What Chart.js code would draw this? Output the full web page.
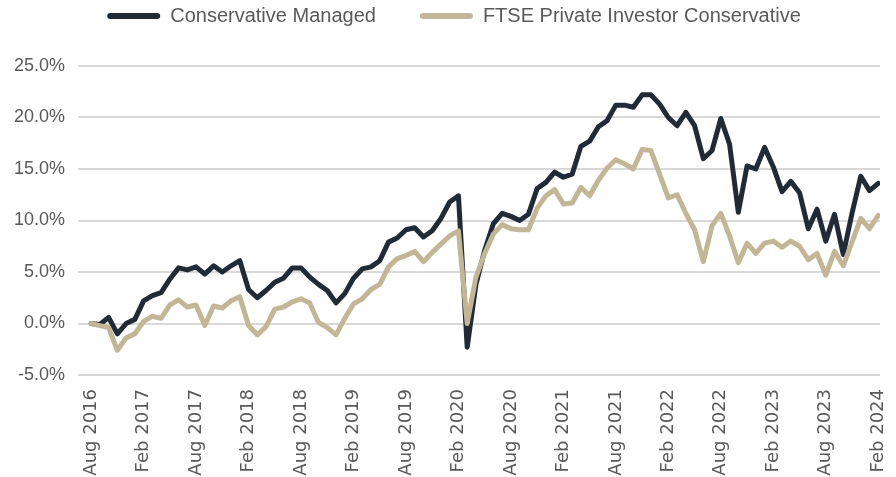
<!DOCTYPE html>
<html>
<head>
<meta charset="utf-8">
<script src="https://cdn.jsdelivr.net/npm/chart.js@4/dist/chart.umd.min.js"></script>
<style>
  html, body { margin: 0; padding: 0; background: #fff; }
</style>
</head>
<body>
<canvas id="chart" width="896" height="477"></canvas>
<script>
// cumulative performance, % (monthly, Aug 2016 - Feb 2024)
const conservativeManaged = [
  0.0, -0.1, 0.6, -1.0, 0.0, 0.4, 2.2, 2.7, 3.0, 4.3, 5.4, 5.2,
  5.5, 4.8, 5.6, 5.0, 5.6, 6.1, 3.3, 2.5, 3.2, 4.0, 4.4, 5.4,
  5.4, 4.5, 3.8, 3.2, 2.0, 2.9, 4.4, 5.3, 5.5, 6.1, 7.9, 8.3,
  9.1, 9.3, 8.4, 9.0, 10.2, 11.8, 12.4, -2.3, 3.8, 7.1, 9.7, 10.7,
  10.4, 10.0, 10.6, 13.1, 13.7, 14.7, 14.2, 14.5, 17.2, 17.7, 19.1, 19.7,
  21.2, 21.2, 21.0, 22.2, 22.2, 21.3, 20.0, 19.2, 20.5, 19.2, 16.0, 16.8,
  19.9, 17.4, 10.8, 15.3, 15.0, 17.1, 15.2, 12.8, 13.8, 12.7, 9.2, 11.1,
  8.0, 10.6, 6.7, 10.7, 14.3, 12.9, 13.6
];
const ftseConservative = [
  0.0, -0.2, -0.4, -2.6, -1.4, -1.0, 0.2, 0.7, 0.5, 1.8, 2.3, 1.6,
  1.8, -0.2, 1.7, 1.5, 2.2, 2.6, -0.2, -1.1, -0.3, 1.4, 1.6, 2.1,
  2.4, 2.0, 0.1, -0.4, -1.1, 0.5, 1.9, 2.4, 3.3, 3.8, 5.5, 6.3,
  6.6, 7.0, 6.0, 6.9, 7.7, 8.5, 9.0, 0.0, 4.5, 6.8, 8.7, 9.6,
  9.2, 9.1, 9.1, 11.2, 12.4, 13.0, 11.6, 11.7, 13.2, 12.4, 13.9, 15.1,
  15.9, 15.5, 15.0, 16.9, 16.8, 14.5, 12.2, 12.5, 10.7, 9.1, 6.0, 9.5,
  10.7, 8.5, 5.9, 7.8, 6.8, 7.8, 8.0, 7.4, 8.0, 7.5, 6.2, 6.8,
  4.7, 7.0, 5.6, 7.9, 10.2, 9.2, 10.5
];
const seriesNames = ['Conservative Managed', 'FTSE Private Investor Conservative'];
const tickLabels = ['Aug 2016', 'Feb 2017', 'Aug 2017', 'Feb 2018', 'Aug 2018', 'Feb 2019', 'Aug 2019', 'Feb 2020',
  'Aug 2020', 'Feb 2021', 'Aug 2021', 'Feb 2022', 'Aug 2022', 'Feb 2023', 'Aug 2023', 'Feb 2024'];
const tickStep = 6; // one label every 6 months
const yTicks = [-5, 0, 5, 10, 15, 20, 25];

const toPoints = arr => arr.map((v, i) => ({ x: i, y: v }));
const grey = '#595959';

// legend: wide gap between the two items, small gap above, larger gap below
const legendLayout = {
  id: 'legendLayout',
  beforeInit(chart) {
    const legend = chart.legend;
    const fit = legend.fit;
    legend.fit = function () {
      fit.call(this);
      this.height -= 8;
    };
    const draw = legend.draw;
    legend.draw = function () {
      const ctx = this.ctx;
      ctx.save();
      ctx.translate(14, -38);
      draw.call(this);
      ctx.restore();
    };
  }
};

new Chart(document.getElementById('chart'), {
  type: 'line',
  data: {
    datasets: [
      {
        label: seriesNames[0],
        data: toPoints(conservativeManaged),
        borderColor: '#212b38',
        backgroundColor: '#212b38',
        borderWidth: 5,
        order: 1
      },
      {
        label: seriesNames[1],
        data: toPoints(ftseConservative),
        borderColor: '#c2b696',
        backgroundColor: '#c2b696',
        borderWidth: 5,
        order: 0
      }
    ]
  },
  plugins: [legendLayout],
  options: {
    responsive: false,
    animation: false,
    layout: { padding: { top: 0, right: 16, left: 0, bottom: 0 } },
    elements: {
      point: { radius: 0 },
      line: { tension: 0, borderJoinStyle: 'round', borderCapStyle: 'round' }
    },
    plugins: {
      tooltip: { enabled: false },
      legend: {
        position: 'top',
        labels: {
          color: grey,
          font: { family: "'Liberation Sans'", size: 20 },
          boxWidth: 53,
          boxHeight: 6,
          padding: 44,
          useBorderRadius: true,
          borderRadius: 3,
          sort: (a, b) => a.datasetIndex - b.datasetIndex,
          generateLabels: chart => {
            const items = Chart.defaults.plugins.legend.labels.generateLabels(chart);
            items.forEach(it => {
              it.lineWidth = 0;
              it.fillStyle = it.strokeStyle;
            });
            return items;
          }
        }
      }
    },
    scales: {
      x: {
        type: 'linear',
        min: -1.5,
        max: 90.2,
        grid: { display: false },
        border: { display: false },
        afterBuildTicks: scale => {
          scale.ticks = tickLabels.map((_, i) => ({ value: i * tickStep }));
        },
        afterFit: scale => {
          scale.height = 102;
          scale.paddingLeft = 0;
          scale.paddingRight = 0;
        },
        ticks: {
          autoSkip: false,
          maxRotation: 90,
          minRotation: 90,
          padding: 6,
          color: grey,
          font: { family: "'DejaVu Sans'", size: 18 },
          callback: v => tickLabels[v / tickStep]
        }
      },
      y: {
        min: yTicks[0],
        max: yTicks[yTicks.length - 1],
        afterBuildTicks: scale => {
          scale.ticks = yTicks.map(v => ({ value: v }));
        },
        afterFit: scale => { scale.width = 78; },
        grid: { color: '#d9d9d9', lineWidth: 2, drawTicks: false },
        border: { display: false },
        ticks: {
          padding: 13,
          color: grey,
          font: { family: "'Liberation Sans'", size: 18 },
          callback: v => v.toFixed(1) + '%'
        }
      }
    }
  }
});
</script>
</body>
</html>
